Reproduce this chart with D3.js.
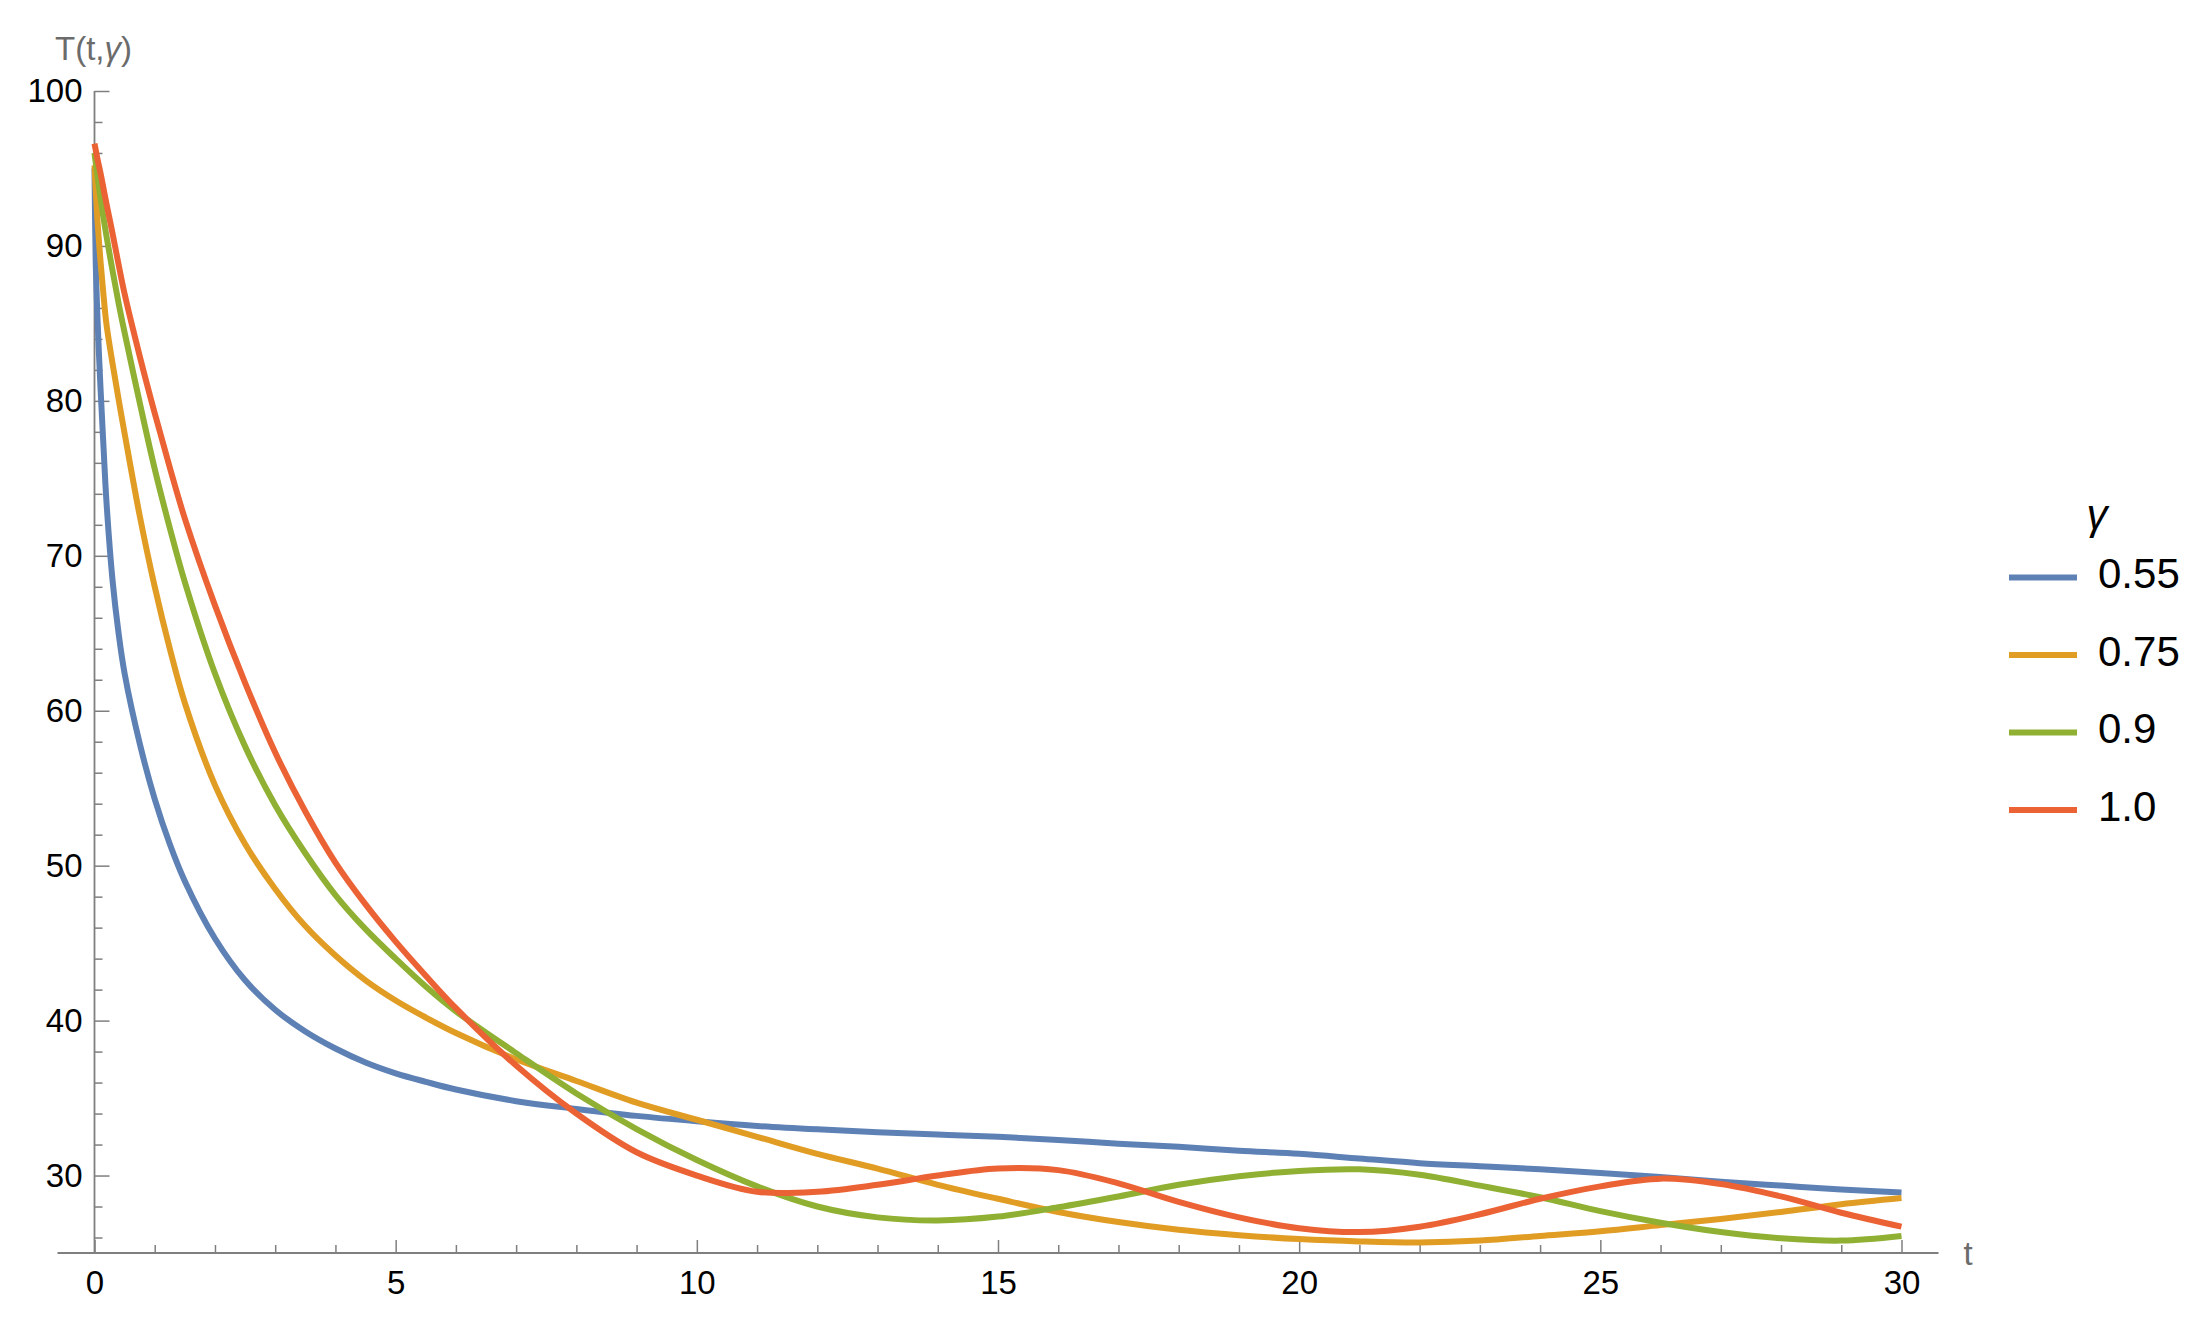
<!DOCTYPE html>
<html>
<head>
<meta charset="utf-8">
<script src="https://cdn.jsdelivr.net/npm/d3@7"></script>
<style>
  html, body { margin: 0; padding: 0; background: #fff; }
  svg { display: block; font-family: "Liberation Sans", Arial, sans-serif; }
</style>
</head>
<body>
<svg id="chart" width="2208" height="1341"></svg>
<script>
// time samples (t) shared by all curves
const tGrid = [0, 0.02, 0.05, 0.1, 0.15, 0.2, 0.3, 0.4, 0.5, 0.75,
  1, 1.25, 1.5, 2, 2.5, 3, 3.5, 4, 4.5, 5, 5.5,
  6, 7, 8, 9, 10, 11, 12, 13, 14, 15, 16, 17, 18, 19, 20,
  21, 22, 23, 24, 25, 26, 27, 28, 29, 30];

// T(t, gamma)
const T055 = [95.0, 89.0, 85.3, 80.8, 77.0, 73.4, 68.4, 65.0, 62.4, 57.9,
  54.3, 51.4, 49.0, 45.3, 42.6, 40.7, 39.3, 38.2, 37.3, 36.6, 36.05,
  35.55, 34.8, 34.3, 33.85, 33.5, 33.2, 32.98, 32.8, 32.65, 32.5, 32.3, 32.05, 31.85, 31.6, 31.4,
  31.1, 30.8, 30.6, 30.4, 30.17, 29.9, 29.6, 29.35, 29.1, 28.9];
const T075 = [95.2, 93.6, 91.6, 89.0, 86.8, 84.9, 82.4, 80.1, 77.9, 72.6,
  68.0, 64.0, 60.5, 55.2, 51.4, 48.5, 46.1, 44.2, 42.6, 41.3, 40.2,
  39.2, 37.5, 36.1, 34.7, 33.6, 32.5, 31.4, 30.45, 29.4, 28.5, 27.65, 27.0, 26.5, 26.15, 25.9,
  25.75, 25.68, 25.8, 26.1, 26.4, 26.8, 27.2, 27.65, 28.15, 28.55];
const T090 = [96.0, 95.4, 94.5, 93.1, 91.8, 90.6, 88.4, 86.3, 84.4, 79.9,
  75.6, 71.8, 68.3, 62.4, 57.7, 53.9, 50.8, 48.1, 45.9, 44.0, 42.2,
  40.6, 37.9, 35.3, 33.0, 31.0, 29.3, 28.0, 27.3, 27.1, 27.35, 27.95, 28.65, 29.4, 29.95, 30.3,
  30.4, 30.05, 29.35, 28.6, 27.7, 26.95, 26.35, 25.95, 25.8, 26.1];
const T100 = [96.6, 96.2, 95.6, 94.7, 93.7, 92.7, 90.8, 88.8, 86.9, 82.9,
  79.2, 75.7, 72.4, 66.8, 61.8, 57.3, 53.5, 50.2, 47.5, 45.1, 42.9,
  40.8, 37.1, 34.0, 31.5, 30.0, 28.95, 28.95, 29.4, 30.0, 30.45, 30.35, 29.5, 28.3, 27.3, 26.6,
  26.35, 26.7, 27.5, 28.5, 29.3, 29.8, 29.45, 28.65, 27.6, 26.7];

const gammaLabels = ['0.55', '0.75', '0.9', '1.0'];
const seriesValues = [T055, T075, T090, T100];
const colors = ['#5e81b5', '#e19c24', '#8fb032', '#eb6235'];

const xMajorTicks = [0, 5, 10, 15, 20, 25, 30];
const yMajorTicks = [30, 40, 50, 60, 70, 80, 90, 100];

const svg = d3.select('#chart');
const axisColor = '#7f7f7f';

// scales
const x = d3.scaleLinear().domain([0, 30]).range([94.5, 1901.5]);
const y = d3.scaleLinear().domain([25, 100]).range([1253, 91]);

const xMinor = d3.range(1, 31).filter(d => d % 5 !== 0);
const yMinor = d3.range(26, 100, 2).filter(d => d % 10 !== 0);

// x axis
const gx = svg.append('g').attr('transform', `translate(0,${y(25)})`);
gx.call(d3.axisBottom(x).tickValues(xMinor).tickSize(-8).tickSizeOuter(0).tickFormat(''));
gx.select('.domain').remove();
const gxMaj = svg.append('g').attr('transform', `translate(0,${y(25)})`)
  .call(d3.axisBottom(x).tickValues(xMajorTicks).tickSize(-13).tickSizeOuter(0).tickPadding(18).tickFormat(d3.format('d')));
gxMaj.select('.domain').remove();

// y axis
const gy = svg.append('g').attr('transform', `translate(${x(0)},0)`);
gy.call(d3.axisLeft(y).tickValues(yMinor).tickSize(-8).tickSizeOuter(0).tickFormat(''));
gy.select('.domain').remove();
const gyMaj = svg.append('g').attr('transform', `translate(${x(0)},0)`)
  .call(d3.axisLeft(y).tickValues(yMajorTicks).tickSize(-15).tickSizeOuter(0).tickPadding(12).tickFormat(d3.format('d')));
gyMaj.select('.domain').remove();

svg.selectAll('.tick line').attr('stroke', axisColor).attr('stroke-width', 1.5);
svg.selectAll('.tick text').attr('fill', '#000').attr('font-size', 33)
  .attr('font-family', '"Liberation Sans", Arial, sans-serif');

// axis lines
svg.append('line')
  .attr('x1', x(0) - 37).attr('x2', x(30) + 37)
  .attr('y1', y(25)).attr('y2', y(25))
  .attr('stroke', axisColor).attr('stroke-width', 1.8);
svg.append('line')
  .attr('x1', x(0)).attr('x2', x(0))
  .attr('y1', y(100)).attr('y2', y(25))
  .attr('stroke', axisColor).attr('stroke-width', 1.8);

// axis labels
const yLab = svg.append('text')
  .attr('x', 55).attr('y', 60)
  .attr('font-size', 33).attr('fill', '#6b6b6b');
yLab.append('tspan').text('T(t,');
yLab.append('tspan').attr('font-style', 'italic').text('γ');
yLab.append('tspan').text(')');

svg.append('text')
  .attr('x', x(30) + 62).attr('y', y(25) + 12)
  .attr('font-size', 33).attr('fill', '#6b6b6b')
  .text('t');

// curves
const line = d3.line()
  .x(d => x(d[0]))
  .y(d => y(d[1]))
  .curve(d3.curveCatmullRom.alpha(0.5));

seriesValues.forEach((vals, i) => {
  svg.append('path')
    .datum(tGrid.map((t, j) => [t, vals[j]]))
    .attr('fill', 'none')
    .attr('stroke', colors[i])
    .attr('stroke-width', 6)
    .attr('stroke-linejoin', 'round')
    .attr('d', line);
});

// legend
const legend = svg.append('g').attr('transform', 'translate(2009,0)');
legend.append('text')
  .attr('x', 88).attr('y', 529)
  .attr('font-size', 42).attr('font-style', 'italic').attr('text-anchor', 'middle')
  .attr('fill', '#000')
  .text('γ');

const rowY = d3.scalePoint().domain(gammaLabels).range([577.5, 810]);
gammaLabels.forEach((lab, i) => {
  legend.append('line')
    .attr('x1', 0).attr('x2', 68)
    .attr('y1', rowY(lab)).attr('y2', rowY(lab))
    .attr('stroke', colors[i]).attr('stroke-width', 6);
  legend.append('text')
    .attr('x', 89).attr('y', rowY(lab) + 10.5)
    .attr('font-size', 42).attr('fill', '#000')
    .text(lab);
});
</script>
</body>
</html>
